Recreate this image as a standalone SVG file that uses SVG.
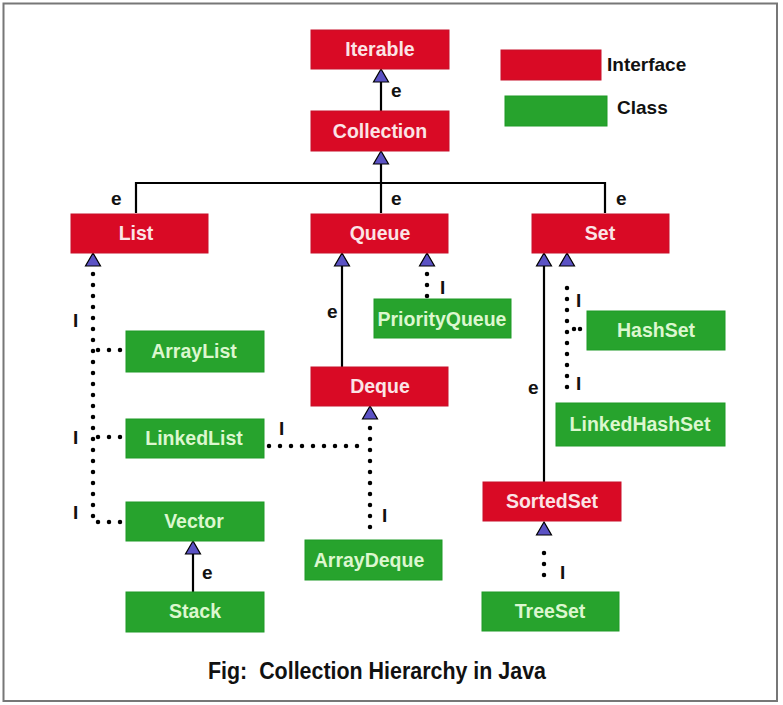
<svg xmlns="http://www.w3.org/2000/svg" width="783" height="705" viewBox="0 0 783 705">
<defs>
<style>
.itf{fill:#d90a25;stroke:#c8102a;stroke-width:1}
.cls{fill:#27a32d;stroke:#1f9a27;stroke-width:1}
.ti{font-family:"Liberation Sans",Arial,sans-serif;font-weight:bold;font-size:19.5px;fill:#fbe4e6;text-anchor:middle}
.tc{font-family:"Liberation Sans",Arial,sans-serif;font-weight:bold;font-size:19.5px;fill:#dcf7cf;text-anchor:middle}
.lbl{font-family:"Liberation Sans",Arial,sans-serif;font-weight:bold;font-size:19px;fill:#111}
.solid{stroke:#000;stroke-width:2.2;fill:none}
.dot{stroke:#000;stroke-width:4.5;fill:none;stroke-linecap:round;stroke-dasharray:0 11}
.dot.short{stroke-dasharray:0 6}
.tri{fill:#5b52c4;stroke:#000;stroke-width:1.2}
</style>
</defs>
<rect x="0" y="0" width="783" height="705" fill="#fff"/>
<rect x="3.5" y="3.5" width="773.5" height="697.5" fill="none" stroke="#777" stroke-width="2"/>

<g id="connectors">
  <line class="solid" x1="381" y1="82" x2="381" y2="111"/>
  <polygon class="tri" points="381,69 373.5,82 388.5,82"/>
  <line class="solid" x1="381" y1="163" x2="381" y2="213"/>
  <polygon class="tri" points="381,151 373.5,164 388.5,164"/>
  <polyline class="solid" points="136,213 136,183 605,183 605,213"/>
  <line class="solid" x1="342" y1="266" x2="342" y2="367"/>
  <polygon class="tri" points="342,253 334.5,266 349.5,266"/>
  <line class="dot" x1="427" y1="274" x2="427" y2="299"/>
  <polygon class="tri" points="427,253 419.5,266 434.5,266"/>
  <line class="dot" x1="93" y1="274" x2="93" y2="522"/>
  <polygon class="tri" points="93,253 85.5,266 100.5,266"/>
  <line class="dot" x1="98" y1="350" x2="124" y2="350"/>
  <line class="dot" x1="98" y1="437" x2="124" y2="437"/>
  <line class="dot" x1="98" y1="522" x2="124" y2="522"/>
  <line class="solid" x1="193" y1="553" x2="193" y2="592"/>
  <polygon class="tri" points="193,541 185.5,554 200.5,554"/>
  <line class="dot" x1="370" y1="428" x2="370" y2="538"/>
  <polygon class="tri" points="370,406 362.5,419 377.5,419"/>
  <line class="dot" x1="269" y1="446" x2="360" y2="446"/>
  <line class="solid" x1="544" y1="266" x2="544" y2="482"/>
  <polygon class="tri" points="544,253 536.5,266 551.5,266"/>
  <line class="dot" x1="567" y1="288" x2="567" y2="398"/>
  <polygon class="tri" points="567,253 559.5,266 574.5,266"/>
  <line class="dot short" x1="574" y1="329" x2="586" y2="329"/>
  <line class="dot" x1="544" y1="553" x2="544" y2="580"/>
  <polygon class="tri" points="544,522 536.5,535 551.5,535"/>

  <text class="lbl" x="391" y="97">e</text>
  <text class="lbl" x="111" y="205">e</text>
  <text class="lbl" x="391" y="205">e</text>
  <text class="lbl" x="616" y="205">e</text>
  <text class="lbl" x="327" y="318">e</text>
  <text class="lbl" x="528" y="394">e</text>
  <text class="lbl" x="202" y="579">e</text>
  <text class="lbl" x="73" y="327">I</text>
  <text class="lbl" x="73" y="444">I</text>
  <text class="lbl" x="73" y="519">I</text>
  <text class="lbl" x="279" y="435">I</text>
  <text class="lbl" x="440" y="294">I</text>
  <text class="lbl" x="382" y="522">I</text>
  <text class="lbl" x="576" y="307">I</text>
  <text class="lbl" x="576" y="390">I</text>
  <text class="lbl" x="560" y="579">I</text>
</g>

<g id="legend-interface">
  <rect class="itf" x="501" y="50" width="100" height="30"/>
  <text class="lbl" x="607" y="71" font-size="20.5">Interface</text>
</g>
<g id="legend-class">
  <rect class="cls" x="505" y="96" width="102" height="30"/>
  <text class="lbl" x="617" y="114" font-size="20.5">Class</text>
</g>

<g id="iterable"><rect class="itf" x="311" y="30" width="138" height="39"/><text class="ti" x="380" y="56">Iterable</text></g>
<g id="collection"><rect class="itf" x="311" y="111" width="138" height="40"/><text class="ti" x="380" y="138">Collection</text></g>
<g id="list"><rect class="itf" x="71" y="214" width="137" height="39"/><text class="ti" x="136" y="240">List</text></g>
<g id="queue"><rect class="itf" x="311" y="214" width="137" height="39"/><text class="ti" x="380" y="240">Queue</text></g>
<g id="set"><rect class="itf" x="532" y="214" width="137" height="39"/><text class="ti" x="600" y="240">Set</text></g>
<g id="priorityqueue"><rect class="cls" x="374" y="299" width="137" height="39"/><text class="tc" x="442" y="326">PriorityQueue</text></g>
<g id="hashset"><rect class="cls" x="587" y="311" width="138" height="39"/><text class="tc" x="656" y="337">HashSet</text></g>
<g id="arraylist"><rect class="cls" x="126" y="331" width="138" height="41"/><text class="tc" x="194" y="358">ArrayList</text></g>
<g id="deque"><rect class="itf" x="311" y="367" width="137" height="39"/><text class="ti" x="380" y="393">Deque</text></g>
<g id="linkedhashset"><rect class="cls" x="556" y="403" width="169" height="43"/><text class="tc" x="640" y="431">LinkedHashSet</text></g>
<g id="linkedlist"><rect class="cls" x="126" y="419" width="138" height="39"/><text class="tc" x="194" y="445">LinkedList</text></g>
<g id="sortedset"><rect class="itf" x="483" y="482" width="138" height="39"/><text class="ti" x="552" y="508">SortedSet</text></g>
<g id="vector"><rect class="cls" x="126" y="502" width="138" height="39"/><text class="tc" x="194" y="528">Vector</text></g>
<g id="arraydeque"><rect class="cls" x="305" y="540" width="137" height="40"/><text class="tc" x="369" y="567">ArrayDeque</text></g>
<g id="stack"><rect class="cls" x="126" y="592" width="138" height="40"/><text class="tc" x="195" y="618">Stack</text></g>
<g id="treeset"><rect class="cls" x="482" y="592" width="137" height="39"/><text class="tc" x="550" y="618">TreeSet</text></g>

<text x="208" y="679" textLength="338" lengthAdjust="spacingAndGlyphs" font-family="'Liberation Sans',Arial,sans-serif" font-weight="bold" font-size="23" fill="#111" xml:space="preserve">Fig:  Collection Hierarchy in Java</text>
</svg>
